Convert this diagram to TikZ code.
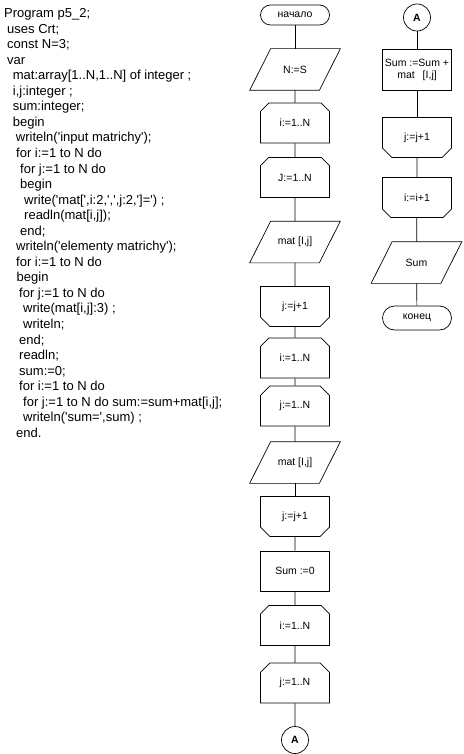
\documentclass[tikz,border=0pt]{standalone}
\usepackage{fontspec}
\setmainfont{Liberation Sans}
\usetikzlibrary{shapes.misc}
\newcommand\qt{\textquotesingle}
\begin{document}
\begin{tikzpicture}[x=1pt,y=-1pt,
 code/.style={anchor=base west,inner sep=0pt,font=\fontsize{13}{15}\selectfont},
 fc/.style={draw,line width=0.7pt,font=\fontsize{10.5}{12}\selectfont,minimum width=69pt,minimum height=40pt,inner sep=1pt,align=center},
 term/.style={fc,rectangle,rounded corners=10pt,minimum height=20pt},
 iobody/.style={fc,rectangle,draw=none,minimum height=41pt},
 lstart/.style={fc,chamfered rectangle,chamfered rectangle corners={north west,north east},chamfered rectangle xsep=10pt},
 lend/.style={fc,chamfered rectangle,chamfered rectangle corners={south west,south east},chamfered rectangle xsep=10pt},
 proc/.style={fc,rectangle},
 conn/.style={draw,circle,line width=0.7pt,minimum size=27pt,inner sep=0pt,font=\bfseries\fontsize{10.5}{12}\selectfont},
 link/.style={line width=0.7pt}]
\newcommand\iobox[3]{%
  \node[iobody] (#1) at (#2) {#3};
  \draw[link] ([xshift=-10.5pt]#1.south west) -- ([xshift=-10.5pt]#1.south east)
    -- ([xshift=10.5pt]#1.north east) -- ([xshift=10.5pt]#1.north west) -- cycle;}
\useasboundingbox[fill=white] (0,0) rectangle (463,754);
% code listing
\node[code] (c1) at (4,17.5) {Program p5\_2;};
\node[code] (c2) at (7,33.05) {uses Crt;};
\node[code] (c3) at (7,48.6) {const N=3;};
\node[code] (c4) at (7,64.15) {var};
\node[code] (c5) at (12.7,79.7) {mat:array[1..N,1..N] of integer ;};
\node[code] (c6) at (12.7,95.25) {i,j:integer ;};
\node[code] (c7) at (12.7,110.8) {sum:integer;};
\node[code] (c8) at (12.7,126.35) {begin};
\node[code] (c9) at (15.7,141.9) {writeln(\qt{}input matrichy\qt{});};
\node[code] (c10) at (16,157.45) {for i:=1 to N do};
\node[code] (c11) at (20,173.0) {for j:=1 to N do};
\node[code] (c12) at (20,188.55) {begin};
\node[code] (c13) at (24,204.1) {write(\qt{}mat[\qt{},i:2,\qt{},\qt{},j:2,\qt{}]=\qt{}) ;};
\node[code] (c14) at (24,219.65) {readln(mat[i,j]);};
\node[code] (c15) at (20,235.2) {end;};
\node[code] (c16) at (16,250.75) {writeln(\qt{}elementy matrichy\qt{});};
\node[code] (c17) at (16,266.3) {for i:=1 to N do};
\node[code] (c18) at (16.5,281.85) {begin};
\node[code] (c19) at (19,297.4) {for j:=1 to N do};
\node[code] (c20) at (23,312.95) {write(mat[i,j]:3) ;};
\node[code] (c21) at (23,328.5) {writeln;};
\node[code] (c22) at (19,344.05) {end;};
\node[code] (c23) at (19,359.6) {readln;};
\node[code] (c24) at (19,375.15) {sum:=0;};
\node[code] (c25) at (19,390.7) {for i:=1 to N do};
\node[code] (c26) at (23,406.25) {for j:=1 to N do sum:=sum+mat[i,j];};
\node[code] (c27) at (23,421.8) {writeln(\qt{}sum=\qt{},sum) ;};
\node[code] (c28) at (16,437.35) {end.};
% main column
\node[term] (start) at (295,15) {начало};
\iobox{ns}{295,69.5}{N:=S}
\node[lstart] (l1) at (295,123) {i:=1..N};
\node[lstart] (l2) at (295,177.5) {J:=1..N};
\iobox{in1}{295,242}{mat [I,j]}
\node[lend] (e1) at (295,306.5) {j:=j+1};
\node[lstart] (l3) at (295,358) {i:=1..N};
\node[lstart] (l4) at (295,406) {j:=1..N};
\iobox{in2}{295,462.5}{mat [I,j]}
\node[lend] (e2) at (295,516.5) {j:=j+1};
\node[proc] (s0) at (295,571) {Sum :=0};
\node[lstart] (l5) at (295,625.5) {i:=1..N};
\node[lstart] (l6) at (295,683) {j:=1..N};
\node[conn] (a1) at (295,740) {A};
\foreach \u/\v in {start/ns,ns/l1,l1/l2,l2/in1,in1/e1,e1/l3,l3/l4,l4/in2,in2/e2,e2/s0,s0/l5,l5/l6,l6/a1}
  \draw[link] (\u) -- (\v);
% right column
\node[conn] (a2) at (417,17.5) {A};
\node[proc,minimum height=41pt] (sum) at (417,69.5) {Sum :=Sum +\\mat\hspace{8pt}[I,j]};
\node[lend] (e3) at (417,137.5) {j:=j+1};
\node[lend] (e4) at (417,197.5) {i:=i+1};
\iobox{out}{416.5,262.5}{Sum}
\node[term,minimum height=24pt,rounded corners=12pt] (fin) at (417,318) {конец};
\foreach \u/\v in {a2/sum,sum/e3,e3/e4,e4/out,out/fin}
  \draw[link] (\u) -- (\v);
\end{tikzpicture}
\end{document}
